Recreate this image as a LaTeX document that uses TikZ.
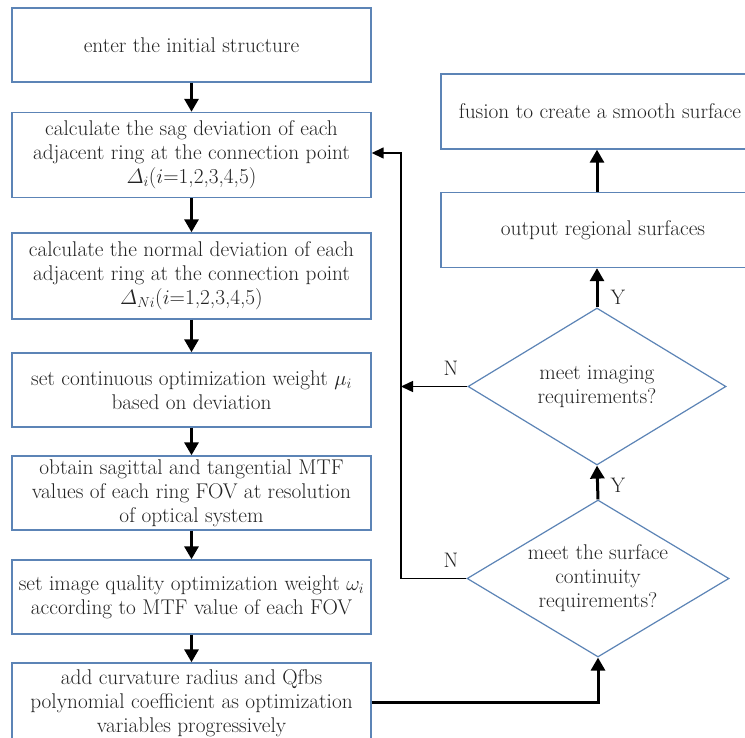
\documentclass[tikz,border=0pt]{standalone}
\usepackage{amsmath}
\usepackage{fontspec}
\usetikzlibrary{arrows.meta,shapes.geometric}
\definecolor{boxblue}{RGB}{92,132,182}
\definecolor{txt}{RGB}{35,35,35}
\begin{document}
\begin{tikzpicture}[x=1pt,y=-1pt,
  box/.style={draw=boxblue,line width=1.4pt,minimum width=359pt,inner sep=0pt,align=center,text=txt,font=\fontsize{21.3}{24}\selectfont},
  rbox/.style={draw=boxblue,line width=1.4pt,minimum width=324pt,minimum height=75pt,inner sep=0pt,align=center,text=txt,font=\fontsize{21.3}{24}\selectfont},
  dia/.style={draw=boxblue,line width=1.2pt,shape=diamond,inner sep=0pt},
  dtext/.style={align=center,text=txt,font=\fontsize{21.3}{24}\selectfont},
  thickarr/.style={line width=3pt,-{Triangle[width=14pt,length=13pt]}},
  lbl/.style={text=txt,font=\fontsize{21}{22}\selectfont}]
\useasboundingbox (0,0) rectangle (745,738);
\clip (0,0) rectangle (745,738);
\fill[white] (0,0) rectangle (745,738);
% left column
\node[box,minimum height=74pt] (b1) at (191.5,45) {enter the initial structure};
\node[box,minimum height=85pt] (b2) at (191.5,155) {calculate the sag deviation of each\\adjacent ring at the connection point\\$\varDelta_i$($i$=1,2,3,4,5)};
\node[box,minimum height=86pt] (b3) at (191.5,276) {calculate the normal deviation of each\\adjacent ring at the connection point\\$\varDelta_{Ni}$($i$=1,2,3,4,5)};
\node[box,minimum height=74pt] (b4) at (191.5,390) {set continuous optimization weight $\mu_i$\\based on deviation};
\node[box,minimum height=74pt] (b5) at (191.5,493) {obtain sagittal and tangential MTF\\values of each ring FOV at resolution\\of optical system};
\node[box,minimum height=74pt] (b6) at (191.5,597) {set image quality optimization weight $\omega_i$\\according to MTF value of each FOV};
\node[box,minimum height=80pt] (b7) at (191.5,703) {add curvature radius and Qfbs\\polynomial coefficient as optimization\\variables progressively};
% right column
\node[rbox] (r1) at (603,111.5) {};
\node[dtext] (t3) at (600,111.5) {fusion to create a smooth surface};
\node[rbox] (r2) at (603,230) {output regional surfaces};
\node[dia,minimum width=258pt,minimum height=157pt] (d1) at (597,386.5) {};
\node[dtext] (t1) at (597,386.5) {meet imaging\\requirements?};
\node[dia,minimum width=262pt,minimum height=157pt] (d2) at (598,578.5) {};
\node[dtext] (t2) at (598,578.5) {meet the surface\\continuity\\requirements?};
% left arrows
\draw[thickarr] (b1.south) -- (b2.north);
\draw[thickarr] (b2.south) -- (b3.north);
\draw[thickarr] (b3.south) -- (b4.north);
\draw[thickarr] (b4.south) -- (b5.north);
\draw[thickarr] (b5.south) -- (b6.north);
\draw[thickarr] (b6.south) -- (b7.north);
% right arrows
\coordinate (c1) at (598,702);
\draw[thickarr] (b7.east |- c1) -- (c1) -- (d2.south);
\draw[thickarr] (d2.north) -- (d1.south);
\draw[thickarr] (d1.north) -- (r2.south -| d1.north);
\draw[thickarr] (r2.north -| d1.north) -- (r1.south -| d1.north);
% feedback
\coordinate (fb) at (401,578.5);
\coordinate (fbt) at (401,153);
\draw[line width=1.5pt,-{Triangle[width=11pt,length=12pt]}] (d2.west) -- (fb) -- (fbt) -- (b2.east |- fbt);
\draw[line width=1.5pt,-{Triangle[width=11pt,length=12pt]}] (d1.west) -- (fb |- d1.west);
% labels
\node[lbl] (n1) at (451,368) {N};
\node[lbl] (n2) at (451,560) {N};
\node[lbl] (y1) at (618,297) {Y};
\node[lbl] (y2) at (618,485) {Y};
\end{tikzpicture}
\end{document}
